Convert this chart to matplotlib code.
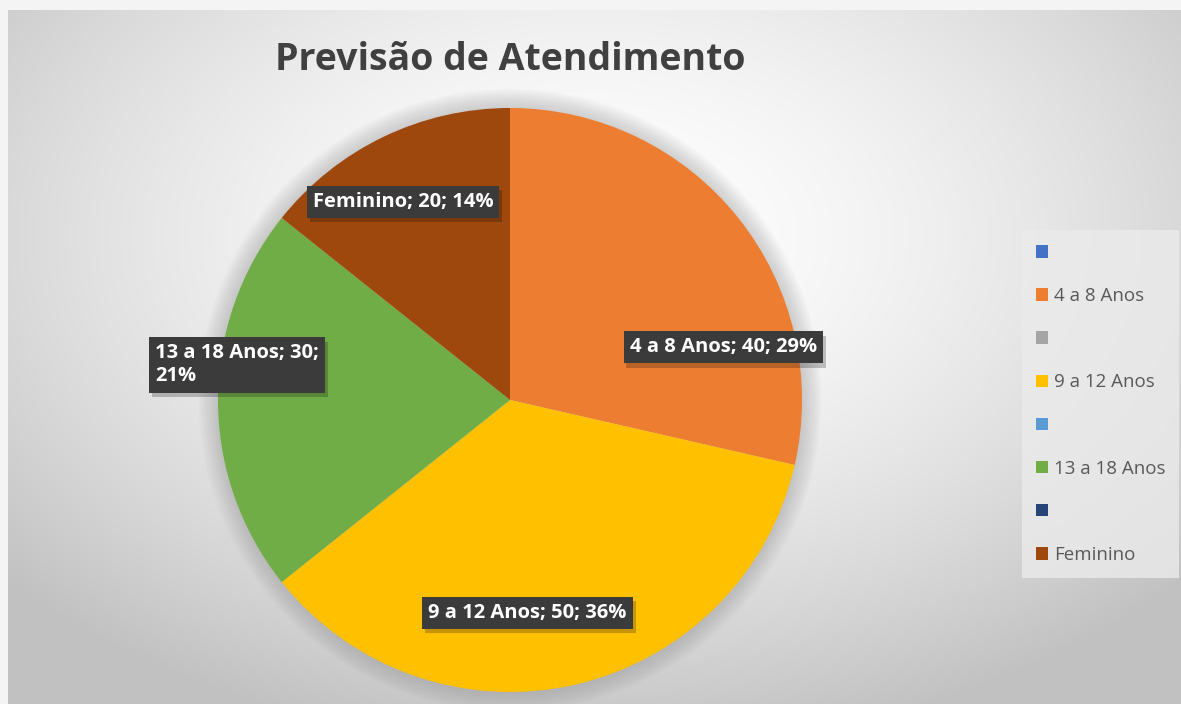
import numpy as np
import matplotlib
matplotlib.use("Agg")
import matplotlib.pyplot as plt
from matplotlib.patches import Patch, Circle
import matplotlib.patheffects as pe

plt.rcParams["font.family"] = ["Open Sans", "DejaVu Sans"]

# ---- data ----
TITLE = "Previsão de Atendimento"
categories = ["", "4 a 8 Anos", "", "9 a 12 Anos", "", "13 a 18 Anos", "", "Feminino"]
values = [0, 40, 0, 50, 0, 30, 0, 20]
colors = ["#4472C4", "#ED7D31", "#A5A5A5", "#FFC000",
          "#5B9BD5", "#70AD47", "#264478", "#9E480E"]
# label placement (in pie-radius units) for the non-empty slices
label_pos = {"4 a 8 Anos": (0.73, 0.18), "9 a 12 Anos": (0.06, -0.73),
             "13 a 18 Anos": (-0.935, 0.12), "Feminino": (-0.366, 0.678)}

W, H = 1181, 704
fig = plt.figure(figsize=(W / 100, H / 100), dpi=100)
fig.patch.set_facecolor("#f4f4f4")

# chart area background: radial grey gradient
x0, y0 = 8, 10
bg = fig.add_axes([x0 / W, 0, 1 - x0 / W, 1 - y0 / H])
bg.set_axis_off()
gx, gy = np.meshgrid(np.linspace(-1, 1, 400), np.linspace(-1, 1, 300))
d = np.sqrt(((gx - 0.0) / 1.0) ** 2 + ((gy + 0.35) / 1.1) ** 2) / 1.35
d = np.clip(d, 0, 1)
g = 1.0 - 0.24 * d ** 1.6
bg.imshow(np.dstack([g, g, g]), extent=(0, 1, 0, 1), aspect="auto", origin="upper")

# pie axes: centre (510, 400) px, radius 292 px
cx, cy, R = 510, 400, 292
ax = fig.add_axes([(cx - R) / W, (H - cy - R) / H, 2 * R / W, 2 * R / H])
ax.set_axis_off()
for k in range(12):
    ax.add_patch(Circle((0, 0), 1.0 + 0.006 * k, color="#888888", alpha=0.035,
                        zorder=0, clip_on=False, lw=0))
ax.pie(values, colors=colors, startangle=90, counterclock=False, radius=1.0,
       wedgeprops=dict(linewidth=0, zorder=1))
ax.set_xlim(-1, 1)
ax.set_ylim(-1, 1)

total = sum(values)
for name, v in zip(categories, values):
    if v == 0:
        continue
    pct = 100 * v / total
    txt = f"{name}; {v}; {pct:.0f}%"
    if name == "13 a 18 Anos":
        txt = f"{name}; {v};\n{pct:.0f}%"
    lx, ly = label_pos[name]
    t = ax.text(lx, ly, txt, ha="center", va="center", ma="left", color="white",
                fontsize=14.5, fontweight="bold", zorder=5, linespacing=1.2,
                bbox=dict(boxstyle="square,pad=0.3", fc="#3b3b3b", ec="none"))
    t.get_bbox_patch().set_path_effects([
        pe.withSimplePatchShadow(offset=(2, -3), shadow_rgbFace="#000000", alpha=0.22)])

fig.text(cx / W, 1 - 60 / H, TITLE, ha="center", va="center", fontsize=27,
         fontweight="bold", color="#404040")

handles = [Patch(fc=c, ec="none", label=n) for n, c in zip(categories, colors)]
leg = fig.legend(handles=handles, loc="upper left", bbox_to_anchor=(1022 / W, 1 - 230 / H),
                 frameon=True, fontsize=13.5, labelcolor="#595959", handlelength=0.65,
                 handleheight=0.65, handletextpad=0.3, labelspacing=1.34,
                 borderpad=0.75, borderaxespad=0, fancybox=False)
leg.get_frame().set_facecolor("#ebebeb")
leg.get_frame().set_edgecolor("none")
leg.get_frame().set_alpha(0.8)

fig.savefig("out.png", dpi=100)
